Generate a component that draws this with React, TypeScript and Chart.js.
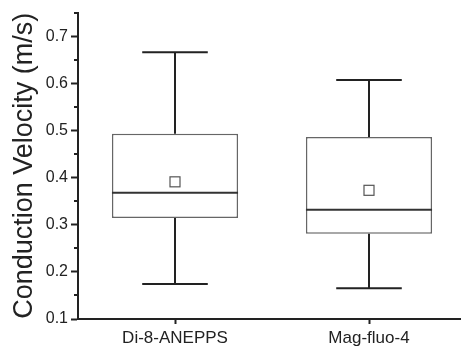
import React, { useEffect, useRef } from 'react';
import { Chart, registerables } from 'chart.js';

Chart.register(...registerables);

const categories = ['Di-8-ANEPPS', 'Mag-fluo-4'];
const whiskerLow = [0.174, 0.165];
const q1 = [0.314, 0.281];
const median = [0.368, 0.332];
const q3 = [0.493, 0.486];
const whiskerHigh = [0.666, 0.607];
const mean = [0.391, 0.373];
const minorTicks = [0.15, 0.25, 0.35, 0.45, 0.55, 0.65, 0.75];

const INK = '#222222';

export default function App() {
  const ref = useRef<HTMLCanvasElement>(null);

  useEffect(() => {
    if (!ref.current) return;
    const boxPlugin = {
      id: 'boxExtras',
      afterDatasetsDraw(chart: any) {
        const ctx = chart.ctx;
        const ys = chart.scales.y;
        const meta = chart.getDatasetMeta(0);
        ctx.save();
        categories.forEach((_, i) => {
          const bar = meta.data[i] as any;
          const x = bar.x;
          const w = bar.width;
          const capHalf = w * 0.26;
          const yHi = ys.getPixelForValue(whiskerHigh[i]);
          const yLo = ys.getPixelForValue(whiskerLow[i]);
          const yQ1 = ys.getPixelForValue(q1[i]);
          const yQ3 = ys.getPixelForValue(q3[i]);
          const yMed = ys.getPixelForValue(median[i]);
          const yMean = ys.getPixelForValue(mean[i]);
          ctx.strokeStyle = INK;
          ctx.lineWidth = 2;
          ctx.beginPath();
          ctx.moveTo(x, yQ3);
          ctx.lineTo(x, yHi);
          ctx.moveTo(x - capHalf, yHi);
          ctx.lineTo(x + capHalf, yHi);
          ctx.moveTo(x, yQ1);
          ctx.lineTo(x, yLo);
          ctx.moveTo(x - capHalf, yLo);
          ctx.lineTo(x + capHalf, yLo);
          ctx.stroke();
          ctx.strokeStyle = '#333333';
          ctx.lineWidth = 2;
          ctx.beginPath();
          ctx.moveTo(x - w / 2, yMed);
          ctx.lineTo(x + w / 2, yMed);
          ctx.stroke();
          const s = 10;
          ctx.fillStyle = '#ffffff';
          ctx.fillRect(x - s / 2, yMean - s / 2, s, s);
          ctx.strokeStyle = '#555555';
          ctx.lineWidth = 1.2;
          ctx.strokeRect(x - s / 2, yMean - s / 2, s, s);
        });
        ctx.strokeStyle = INK;
        ctx.lineWidth = 2;
        ctx.beginPath();
        minorTicks.forEach((v) => {
          const y = Math.round(ys.getPixelForValue(v));
          ctx.moveTo(ys.right - 4, y);
          ctx.lineTo(ys.right, y);
        });
        ctx.stroke();
        ctx.restore();
      },
    };

    const chart = new Chart(ref.current, {
      type: 'bar',
      data: {
        labels: categories,
        datasets: [
          {
            data: q1.map((v, i) => [v, q3[i]]) as any,
            backgroundColor: '#ffffff',
            borderColor: '#666666',
            borderWidth: 1.5,
            borderSkipped: false,
            barPercentage: 0.65,
            categoryPercentage: 1,
          },
        ],
      },
      options: {
        animation: false,
        responsive: false,
        maintainAspectRatio: false,
        layout: { padding: { left: 8, top: 9, right: 0, bottom: 0 } },
        plugins: { legend: { display: false }, tooltip: { enabled: false } },
        scales: {
          x: {
            grid: { display: true, drawOnChartArea: false, offset: false, tickLength: 5, tickWidth: 2, tickColor: INK },
            border: { display: true, color: INK, width: 2 },
            ticks: { color: INK, font: { family: 'Liberation Sans', size: 17 }, padding: 4 },
            afterFit: (scale: any) => {
              scale.height = 30;
            },
          },
          y: {
            min: 0.1,
            max: 0.75,
            grid: { display: true, drawOnChartArea: false, tickLength: 7, tickWidth: 2, tickColor: INK },
            border: { display: true, color: INK, width: 2 },
            ticks: {
              stepSize: 0.1,
              includeBounds: false,
              color: INK,
              padding: 3,
              font: { family: 'Liberation Sans', size: 16 },
              callback: (v: any) => Number(v).toFixed(1),
            },
            title: {
              display: true,
              text: 'Conduction Velocity (m/s)',
              color: INK,
              font: { family: 'Liberation Sans', size: 27 },
              padding: { top: 0, bottom: 0 },
            },
            afterFit: (scale: any) => {
              scale.width = 70;
            },
          },
        },
      },
      plugins: [boxPlugin],
    });
    return () => chart.destroy();
  }, []);

  return (
    <div style={{ position: 'absolute', left: 0, top: 0, width: 461, height: 349, overflow: 'hidden', background: '#fff' }}>
      <canvas ref={ref} width={466} height={349} style={{ display: 'block' }} />
    </div>
  );
}
